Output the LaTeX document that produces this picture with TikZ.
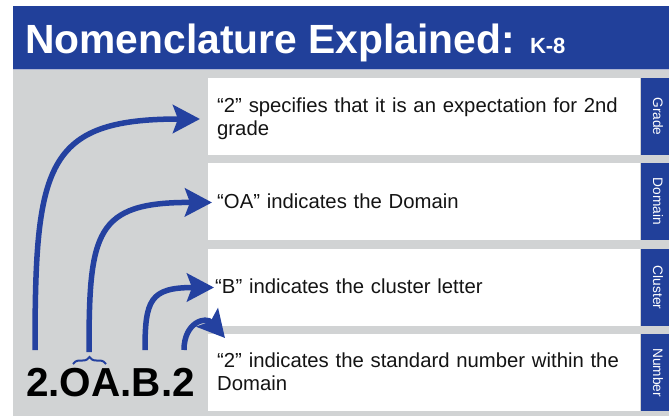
\documentclass[tikz,border=0pt]{standalone}
\usepackage{fontspec}
\setmainfont{Liberation Sans}
\usetikzlibrary{arrows.meta,decorations.pathreplacing}

\definecolor{bandblue}{HTML}{21409A}
\definecolor{arrowblue}{HTML}{2441A0}
\definecolor{panelgray}{HTML}{D1D3D4}
\definecolor{seamline}{HTML}{AEB5D2}
\definecolor{inktext}{HTML}{141414}

\tikzset{
  infobox/.style={draw=none, fill=white, anchor=north west, inner sep=0pt, outer sep=0pt,
    minimum width=432pt, minimum height=77pt},
  tabbox/.style={fill=bandblue, inner sep=0pt, outer sep=0pt, rotate=-90,
    minimum width=77pt, minimum height=28pt},
  tablabel/.style={text=white, inner sep=0pt, rotate=-90, font=\fontsize{13.7}{16}\selectfont},
  infotext/.style={anchor=base west, inner sep=0pt, text width=425pt, align=left,
    text=inktext, font=\fontsize{20.3}{23.5}\selectfont},
  bigarrow/.style={draw=arrowblue, line width=5.5pt,
    -{Stealth[length=27pt 0 0, width=28pt 0, inset=5pt 0]}},
  codebrace/.style={draw=arrowblue, line width=2pt,
    decorate, decoration={brace, amplitude=7pt}}
}

\begin{document}
\begin{tikzpicture}[x=1pt, y=-1pt]
  \useasboundingbox (0,0) rectangle (669,416);

  % header band and grey panel
  \fill[bandblue] (13,6) rectangle (669,69);
  \fill[panelgray] (13,69) rectangle (669,416);
  \draw[seamline, line width=1pt] (13,69.5) -- (669,69.5);

  \node[anchor=base west, inner sep=0pt, text=white] (title) at (25,53)
    {\fontsize{40.8}{46}\selectfont\bfseries Nomenclature Explained: {\fontsize{22}{26}\selectfont K-8}};

  % white description boxes
  \node[infobox] (b1) at (208,78) {};
  \node[infobox] (b2) at (208,163) {};
  \node[infobox] (b3) at (208,249) {};
  \node[infobox] (b4) at (208,334) {};

  % blue side tabs
  \node[tabbox] (t1) at (655,116.5) {};
  \node[tabbox] (t2) at (655,201.5) {};
  \node[tabbox] (t3) at (655,287.5) {};
  \node[tabbox] (t4) at (655,372.5) {};
  \node[tablabel] (l1) at ([xshift=3pt]t1.center) {Grade};
  \node[tablabel] (l2) at ([xshift=3pt]t2.center) {Domain};
  \node[tablabel] (l3) at ([xshift=3pt]t3.center) {Cluster};
  \node[tablabel] (l4) at ([xshift=3pt]t4.center) {Number};

  % descriptions
  \node[infotext] (d1) at (217,112) {“2” specifies that it is an expectation for 2nd\\grade};
  \node[infotext] (d2) at (217,208) {“OA” indicates the Domain};
  \node[infotext] (d3) at (215,293) {“B” indicates the cluster letter};
  \node[infotext] (d4) at (217,367) {“2” indicates the standard number within the\\Domain};

  % the standard code
  \node[anchor=base west, inner sep=0pt, text=black] (code) at (26,396)
    {\fontsize{40.5}{46}\selectfont\bfseries 2.OA.B.2};

  % brace over the domain letters
  \coordinate (braceL) at (73,364);
  \coordinate (braceR) at (106,364);
  \draw[codebrace] (braceL) -- (braceR);

  % arrow start points above the code parts
  \coordinate (s1) at (35,350);
  \coordinate (s2) at (89,352);
  \coordinate (s3) at (145,350);
  \coordinate (s4) at (184,350);

  % arrow tips at the boxes
  \coordinate (e1) at ([shift={(-8,2.5)}]b1.west);
  \coordinate (e2) at ([shift={(4,1)}]b2.west);
  \coordinate (e3) at ([shift={(6,0)}]b3.west);
  \coordinate (e4) at ([shift={(17,4)}]b4.north west);

  \draw[bigarrow] (s1) .. controls (35,165) and (45,119) .. (e1);
  \draw[bigarrow] (s2) .. controls (89,232) and (95,202) .. (e2);
  \draw[bigarrow] (s3) .. controls (145,300) and (150,287.5) .. (e3);
  \draw[bigarrow] (s4) .. controls (184,322) and (206,316) .. (e4);
\end{tikzpicture}
\end{document}
